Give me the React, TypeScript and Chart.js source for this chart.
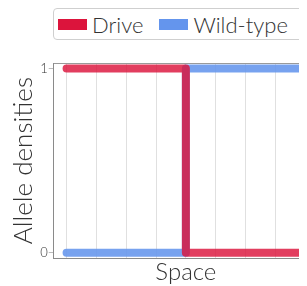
import React, { useEffect, useRef } from "react";
import { Chart, registerables } from "chart.js";

Chart.register(...registerables);

const xPositions = [0, 4, 4, 8];
const driveValues = [1, 1, 0, 0];
const wildTypeValues = [0, 0, 1, 1];
const xGridTicks = [0, 1, 2, 3, 4, 5, 6, 7, 8];
const yTickValues = [0, 1];
const seriesNames = ["Drive", "Wild-type"];

const FONT = "Lato, 'Open Sans', sans-serif";

const topBorder = {
  id: "topBorder",
  afterDraw(chart: any) {
    const { ctx, chartArea } = chart;
    ctx.save();
    ctx.strokeStyle = "#9a9a9a";
    ctx.lineWidth = 1;
    ctx.beginPath();
    ctx.moveTo(chartArea.left, chartArea.top + 0.5);
    ctx.lineTo(chartArea.right, chartArea.top + 0.5);
    ctx.stroke();
    ctx.restore();
  },
};

export default function App() {
  const ref = useRef<HTMLCanvasElement>(null);
  useEffect(() => {
    document.documentElement.style.overflow = "hidden";
    if (!ref.current) return;
    const chart = new Chart(ref.current, {
      type: "line",
      data: {
        datasets: [
          {
            label: seriesNames[0],
            data: xPositions.map((x, i) => ({ x, y: driveValues[i] })),
            borderColor: "rgba(220,20,60,0.82)",
            backgroundColor: "#dc143c",
            borderWidth: 8,
            pointRadius: 0,
            borderCapStyle: "round",
            borderJoinStyle: "round",
            tension: 0,
          },
          {
            label: seriesNames[1],
            data: xPositions.map((x, i) => ({ x, y: wildTypeValues[i] })),
            borderColor: "rgba(100,149,237,0.88)",
            backgroundColor: "#6495ed",
            borderWidth: 8,
            pointRadius: 0,
            borderCapStyle: "round",
            borderJoinStyle: "round",
            tension: 0,
          },
        ],
      },
      options: {
        animation: false,
        responsive: false,
        maintainAspectRatio: false,
        devicePixelRatio: 1,
        layout: { padding: { top: 55, right: 12, left: 0, bottom: 0 } },
        plugins: { legend: { display: false }, tooltip: { enabled: false } },
        scales: {
          x: {
            type: "linear",
            min: -0.43,
            max: 8.43,
            afterBuildTicks: (axis: any) => {
              axis.ticks = xGridTicks.map((v) => ({ value: v }));
            },
            ticks: { display: false },
            grid: { color: "rgba(0,0,0,0.12)", drawTicks: false },
            border: { color: "#8a8a8a", width: 1 },
            title: {
              display: true,
              text: "Space",
              color: "#333",
              font: { family: FONT, size: 24, weight: "300" },
              padding: { top: 0, bottom: 0 },
            },
          },
          y: {
            min: -0.03,
            max: 1.03,
            afterBuildTicks: (axis: any) => {
              axis.ticks = yTickValues.map((v) => ({ value: v }));
            },
            ticks: {
              color: "#333",
              font: { family: FONT, size: 13, weight: "300" },
              padding: 1,
            },
            grid: { drawOnChartArea: false, drawTicks: true, tickLength: 5, color: "#bbb" },
            border: { color: "#8a8a8a", width: 1 },
            title: {
              display: true,
              text: "Allele densities",
              color: "#333",
              font: { family: FONT, size: 26, weight: "300" },
              padding: { top: 0, bottom: 0 },
            },
          },
        },
      },
      plugins: [topBorder],
    });
    return () => chart.destroy();
  }, []);

  const legendItem = (color: string, text: string, gap: number) => (
    <span style={{ display: "inline-flex", alignItems: "center", marginRight: gap }}>
      <span style={{ display: "inline-block", width: 29, height: 11, background: color, marginRight: 5 }} />
      <span>{text}</span>
    </span>
  );

  return (
    <div style={{ position: "relative", width: 299, height: 278 }}>
      <canvas
        ref={ref}
        width={322}
        height={279}
        style={{ position: "absolute", left: 0, top: 0, width: 322, height: 279 }}
      />
      <div
        style={{
          position: "absolute",
          left: 45,
          top: 0,
          width: 280,
          height: 32,
          border: "1px solid #cfcfcf",
          borderRadius: 4,
          boxSizing: "border-box",
          display: "flex",
          alignItems: "center",
          paddingLeft: 4,
          fontFamily: FONT,
          fontWeight: 300,
          fontSize: 22,
          color: "#333",
          whiteSpace: "nowrap",
          background: "white",
        }}
      >
        {legendItem("#dc143c", seriesNames[0], 16)}
        {legendItem("#6495ed", seriesNames[1], 0)}
      </div>
    </div>
  );
}
